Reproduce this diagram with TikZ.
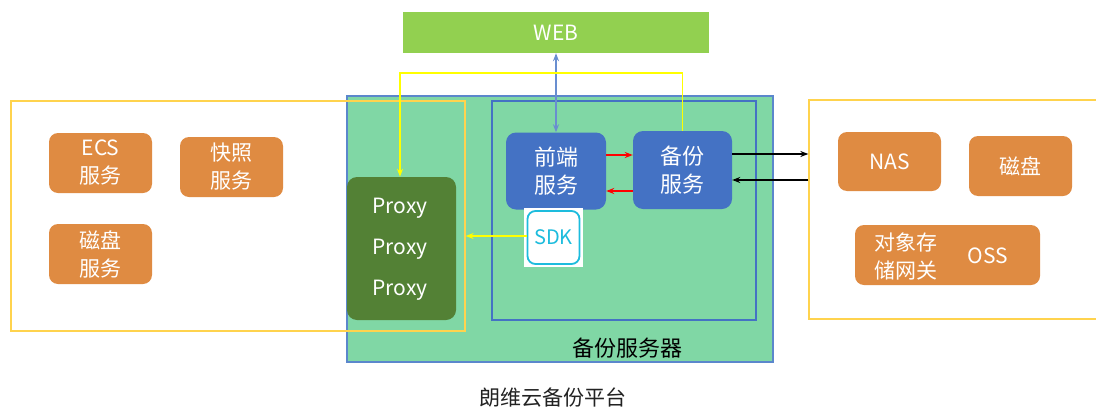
\documentclass[tikz,border=0pt]{standalone}
\usepackage{fontspec}
\setmainfont{Noto Sans CJK SC}
\usetikzlibrary{arrows.meta,calc}
\definecolor{orng}{HTML}{DF8B42}
\definecolor{srvgreen}{HTML}{80D7A5}
\definecolor{srvblue}{HTML}{5B87CC}
\definecolor{bluebox}{HTML}{4472C4}
\definecolor{proxygreen}{HTML}{538135}
\definecolor{webgreen}{HTML}{92D050}
\definecolor{frameyel}{HTML}{FFD34D}
\definecolor{lineyel}{HTML}{FFFF00}
\definecolor{sdkcyan}{HTML}{1DBCDD}
\definecolor{arrred}{HTML}{FF0000}
\definecolor{txtgray}{HTML}{222222}
\begin{document}
\begin{tikzpicture}[x=1pt,y=-1pt,
  obox/.style={fill=orng, rounded corners=9pt, text=white, inner sep=0pt, align=center,
     font=\fontsize{21}{28}\selectfont},
  bbox/.style={fill=bluebox, rounded corners=10pt, text=white, inner sep=0pt, align=center,
     minimum width=100pt, minimum height=77pt, font=\fontsize{22}{28}\selectfont},
  frame/.style={draw=frameyel, line width=1.3pt, inner sep=0pt},
  tip/.style={-{Stealth[length=8pt,width=6pt]}},
  tips/.style={{Stealth[length=8pt,width=6pt]}-{Stealth[length=8pt,width=6pt]}}
]
\useasboundingbox (0,0) rectangle (1096,410);
% web
\node[fill=webgreen, text=white, minimum width=306pt, minimum height=41pt, inner sep=0pt,
  font=\fontsize{21}{24}\selectfont] (web) at (556,32.5) {WEB};
% backup server
\node[fill=srvgreen, draw=srvblue, line width=1.3pt, minimum width=426pt, minimum height=266pt, inner sep=0pt] (srv) at (560,229) {};
\node[draw=bluebox, line width=1.2pt, minimum width=264pt, minimum height=219pt, inner sep=0pt] (inner) at (624,210.5) {};
% left frame
\node[frame, minimum width=454pt, minimum height=230pt] (lbox) at (238,216) {};
% right frame
\node[frame, minimum width=300pt, minimum height=219pt] (rbox) at (959,209.5) {};
% left services
\node[obox, minimum width=103pt, minimum height=60pt] (ecs) at (100.5,163) {ECS\\服务};
\node[obox, minimum width=103pt, minimum height=60pt] (snap) at (231.5,167) {快照\\服务};
\node[obox, minimum width=103pt, minimum height=60pt] (disksvc) at (100.5,254) {磁盘\\服务};
% proxy
\node[fill=proxygreen, rounded corners=10pt, minimum width=109pt, minimum height=143pt, inner sep=0pt] (proxy) at (401.5,248.5) {};
\node[text=white, font=\fontsize{21}{24}\selectfont] (p1) at (400,208) {Proxy};
\node[text=white, font=\fontsize{21}{24}\selectfont] (p2) at (400,249) {Proxy};
\node[text=white, font=\fontsize{21}{24}\selectfont] (p3) at (400,290) {Proxy};
% front end / backup service
\node[bbox] (fe) at (556,171) {前端\\服务};
\node[bbox, minimum width=99pt, minimum height=78pt] (bk) at (682.5,170) {备份\\服务};
% SDK
\node[fill=white, minimum width=59pt, minimum height=59pt, inner sep=0pt] (sdkbg) at (553.5,237.5) {};
\node[draw=sdkcyan, line width=1.8pt, rounded corners=8pt, minimum width=52pt, minimum height=53pt, inner sep=0pt,
  text=sdkcyan, font=\fontsize{20}{24}\selectfont] (sdk) at (553.5,237.5) {SDK};
% right storage
\node[obox, minimum width=103pt, minimum height=59pt] (nas) at (889.5,161.5) {NAS};
\node[obox, minimum width=103pt, minimum height=60pt] (disk) at (1020.5,166) {磁盘};
\node[obox, minimum width=185pt, minimum height=60pt] (oss) at (947.5,255) {};
\node[text=white, align=center, inner sep=0pt, font=\fontsize{21}{28}\selectfont] (gw) at (906,256) {对象存\\储网关};
\node[text=white, inner sep=0pt, font=\fontsize{21}{24}\selectfont] (osst) at (988,256) {OSS};
% labels
\node[text=black, font=\fontsize{22}{26}\selectfont] (srvlabel) at (627,348) {备份服务器};
\node[text=txtgray, font=\fontsize{21}{26}\selectfont] (title) at (553,398) {朗维云备份平台};
% connectors
\draw[tips, draw=bluebox!80, fill=bluebox!80, line width=1.3pt] (web.south) -- (fe.north);
\draw[tip, draw=arrred, line width=1.3pt] ([yshift=16pt]fe.east) -- ([yshift=15pt]bk.west);
\draw[tip, draw=arrred, line width=1.3pt] ([yshift=-21pt]bk.west) -- ([yshift=-20pt]fe.east);
\draw[tip, draw=black, line width=1.3pt] ([yshift=16pt]bk.east) -- ([yshift=16pt]bk.east -| rbox.west);
\draw[tip, draw=black, line width=1.3pt] ([yshift=-10pt]bk.east -| rbox.west) -- ([yshift=-10pt]bk.east);
\coordinate (ytop) at (0,73);
\draw[tip, draw=lineyel, line width=1.4pt] (bk.north) -- (bk.north |- ytop) -| ([xshift=-1.5pt]proxy.north);
\draw[tip, draw=lineyel, line width=1.5pt] ([yshift=1.5pt]sdk.west) -- ([yshift=1.5pt]sdk.west -| lbox.east);
\end{tikzpicture}
\end{document}
